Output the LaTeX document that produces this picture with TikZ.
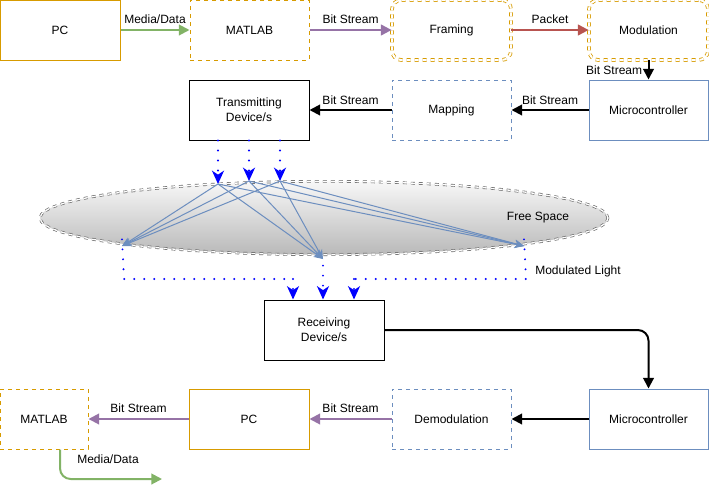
\documentclass[tikz,border=0pt]{standalone}
\usepackage{fontspec}
\setmainfont{Liberation Sans}
\usetikzlibrary{arrows.meta,shapes.geometric}
\definecolor{orng}{HTML}{D79B00}
\definecolor{bluel}{HTML}{6C8EBF}
\definecolor{grn}{HTML}{82B366}
\definecolor{purp}{HTML}{9673A6}
\definecolor{redd}{HTML}{B85450}
\definecolor{gborder}{HTML}{666666}
\tikzset{
  box/.style={minimum width=89.25pt,minimum height=45pt,inner sep=0pt,align=center,font=\fontsize{9}{11}\selectfont,line width=0.75pt},
  lbl/.style={font=\fontsize{9}{11}\selectfont,inner sep=1pt},
  arr/.style={line width=1.5pt,-{Triangle[length=8pt,width=8pt]}},
  dotarr/.style={blue,line width=1.6pt,line cap=round,dash pattern=on 0pt off 7.5pt,-{Stealth[length=10pt,width=9pt,inset=3pt,blue,line cap=butt]}},
  dotline/.style={blue,line width=1.6pt,line cap=round,dash pattern=on 0pt off 7.5pt},
  ray/.style={bluel,line width=0.75pt,-{Stealth[length=7pt,width=6pt]}},
}
\begin{document}
\begin{tikzpicture}[x=0.75pt,y=-0.75pt]
\useasboundingbox (0,0) rectangle (709,486);
% ellipse
\node[ellipse,minimum width=426pt,minimum height=55pt,top color=gray!6,bottom color=gray!55,draw=gborder,double=white,double distance=1pt,dashed,line width=0.5pt] (fs) at (324,218) {};
\node[lbl] (fst) at (538,218) {Free Space};
% top row
\node[box,draw=orng,minimum width=90pt] (pc1) at (60,30) {PC};
\node[box,draw=orng,dashed] (mat1) at (249.5,30) {MATLAB};
\node[box,draw=orng,dashed,double=white,double distance=1.5pt,line width=0.6pt,rounded corners=7pt] (fr) at (451.5,30) {Framing};
\node[box,draw=orng,dashed,double=white,double distance=1.5pt,line width=0.6pt,rounded corners=7pt] (mod) at (648.5,30) {Modulation};
% second row
\node[box,draw=bluel] (mc1) at (648.5,110) {Microcontroller};
\node[box,draw=bluel,dashed] (map) at (451.5,110) {Mapping};
\node[box,draw=black,minimum width=90pt] (tx) at (249,110) {Transmitting\\Device/s};
% receiving
\node[box,draw=black,minimum width=90pt] (rx) at (324,330) {Receiving\\Device/s};
% bottom row
\node[box,draw=bluel] (mc2) at (648.5,419) {Microcontroller};
\node[box,draw=bluel,dashed] (dem) at (451.5,419) {Demodulation};
\node[box,draw=orng,minimum width=90pt] (pc2) at (249,419) {PC};
\node[box,draw=orng,dashed,minimum width=66pt] (mat2) at (44,419) {MATLAB};
% top arrows
\draw[arr,grn] (pc1) -- node[lbl,above=3pt,black]{Media/Data} (mat1);
\draw[arr,purp] (mat1) -- node[lbl,above=3pt,black]{Bit Stream} (fr);
\draw[arr,redd] (fr) -- node[lbl,above=3pt,black]{Packet} (mod);
\draw[arr,black] (mod) -- node[lbl,left=3pt,black]{Bit Stream} (mc1);
\draw[arr,black] (mc1) -- node[lbl,above=2pt,black]{Bit Stream} (map);
\draw[arr,black] (map) -- node[lbl,above=2pt,black]{Bit Stream} (tx);
% light
\coordinate (s1) at (218,184);
\coordinate (s2) at (249,181);
\coordinate (s3) at (280,181);
\coordinate (e1) at (122,246);
\coordinate (e2) at (323,259);
\coordinate (e3) at (524,246);
\draw[dotarr] (tx.south -| s1) -- (s1);
\draw[dotarr] (tx.south -| s2) -- (s2);
\draw[dotarr] (tx.south -| s3) -- (s3);
\foreach \s in {s1,s2,s3}{
  \foreach \e in {e1,e2,e3}{
    \draw[ray] (\s) -- (\e);
  }
}
\coordinate (r1) at (293,300);
\coordinate (r2) at (323,300);
\coordinate (r3) at (354,300);
\coordinate (c1) at (124,279);
\coordinate (c3) at (526,279);
\draw[dotline] ([yshift=5pt]e1) -- (c1) -- (c1 -| r1);
\draw[dotarr] (c1 -| r1) -- (rx.north -| r1);
\draw[dotarr] ([yshift=-5pt]e2) -- (rx.north -| r2);
\draw[dotline] ([yshift=5pt]e3) -- (c3) -- (c3 -| r3);
\draw[dotarr] (c3 -| r3) -- (rx.north -| r3);
\node[lbl] (ml) at (578,271) {Modulated Light};
% receiving to micro
\draw[arr,black,rounded corners=8pt] (rx.east) -- (rx.east -| mc2.north) -- (mc2.north);
% bottom arrows
\draw[arr,black] (mc2) -- (dem);
\draw[arr,purp] (dem) -- node[lbl,above=3pt,black]{Bit Stream} (pc2);
\draw[arr,purp] (pc2) -- node[lbl,above=3pt,black]{Bit Stream} (mat2);
\coordinate (g2) at (162,479);
\draw[arr,grn,rounded corners=8pt] (mat2.south -| 60,0) -- (60,479) -- (g2);
\node[lbl] (md2) at (108,459) {Media/Data};
\end{tikzpicture}
\end{document}
